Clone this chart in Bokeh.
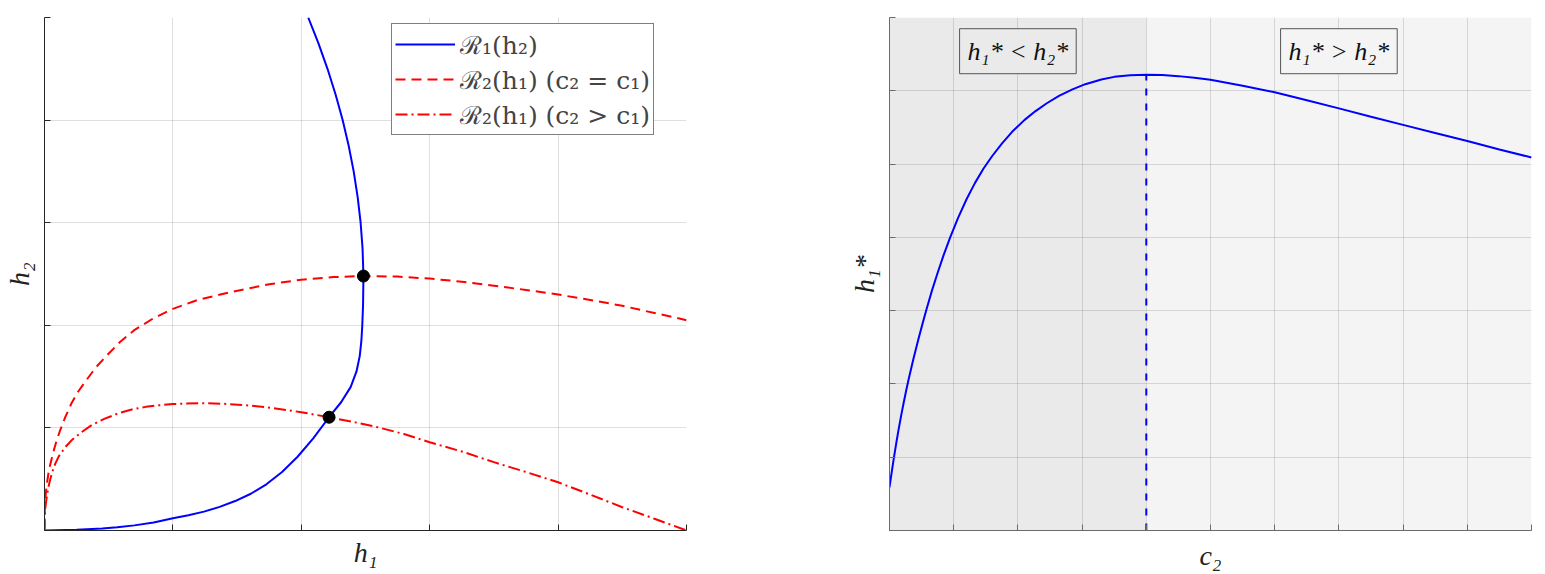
import numpy as np
from bokeh.plotting import figure
from bokeh.layouts import row
from bokeh.models import FixedTicker, Legend, LegendItem, BoxAnnotation, Label
from bokeh.embed import file_html
from bokeh.resources import INLINE

# ---------------- data: left panel (best responses) ----------------
r1_h1 = [0.0, 0.25, 0.45, 0.567, 0.70, 0.85, 1.0, 1.121, 1.242, 1.364, 1.485, 1.607,
         1.728, 1.850, 1.971, 2.093, 2.216, 2.31, 2.385, 2.43, 2.455, 2.468, 2.475, 2.481,
         2.484, 2.477, 2.462, 2.439, 2.408, 2.369, 2.322, 2.267, 2.204, 2.133, 2.054]
r1_h2 = [0.0, 0.008, 0.02, 0.032, 0.05, 0.078, 0.12, 0.149, 0.184, 0.230, 0.287, 0.358,
         0.450, 0.570, 0.719, 0.898, 1.104, 1.25, 1.40, 1.55, 1.70, 1.85, 2.0, 2.2,
         2.48, 2.75, 3.0, 3.25, 3.5, 3.75, 4.0, 4.25, 4.5, 4.75, 5.0]

r2eq_h1 = [0.0, 0.002, 0.005, 0.01, 0.02, 0.035, 0.05, 0.07, 0.095, 0.12, 0.16, 0.21,
           0.26, 0.317, 0.40, 0.489, 0.59, 0.696, 0.85, 1.0, 1.2, 1.475, 1.75, 2.0, 2.25,
           2.484, 2.75, 3.0, 3.25, 3.5, 3.75, 4.0, 4.28, 4.5, 4.75, 5.0]
r2eq_h2 = [0.0, 0.19, 0.27, 0.36, 0.47, 0.59, 0.67, 0.77, 0.88, 0.97, 1.10, 1.24,
           1.35, 1.45, 1.59, 1.71, 1.84, 1.95, 2.07, 2.16, 2.25, 2.33, 2.40, 2.445, 2.47,
           2.48, 2.475, 2.455, 2.425, 2.385, 2.345, 2.30, 2.24, 2.19, 2.12, 2.05]

r2gt_h1 = [0.0, 0.001, 0.003, 0.006, 0.01, 0.018, 0.03, 0.045, 0.063, 0.083, 0.11, 0.16,
           0.22, 0.29, 0.37, 0.47, 0.57, 0.68, 0.79, 0.89, 1.0, 1.1, 1.268, 1.43, 1.6,
           1.8, 2.0, 2.216, 2.4, 2.593, 2.8, 3.0, 3.25, 3.5, 3.75, 4.0, 4.25, 4.5, 4.75, 5.0]
r2gt_h2 = [0.0, 0.09, 0.15, 0.21, 0.26, 0.33, 0.42, 0.50, 0.58, 0.65, 0.72, 0.81,
           0.89, 0.96, 1.03, 1.09, 1.14, 1.18, 1.205, 1.22, 1.232, 1.238, 1.24, 1.233, 1.218,
           1.19, 1.153, 1.104, 1.06, 1.007, 0.94, 0.86, 0.77, 0.666, 0.57, 0.47, 0.35, 0.227,
           0.115, 0.0]

eq_h1 = [2.484, 2.216]
eq_h2 = [2.48, 1.104]

legend_labels = ["ℛ₁(h₂)", "ℛ₂(h₁) (c₂ = c₁)", "ℛ₂(h₁) (c₂ > c₁)"]

# ---------------- data: right panel (equilibrium h1* vs c2) ----------------
c2 = [0.0, 0.035, 0.07, 0.105, 0.14, 0.18, 0.22, 0.26, 0.30, 0.375, 0.45, 0.52, 0.58,
      0.66, 0.74, 0.84, 0.945, 1.07, 1.2, 1.33, 1.465, 1.6, 1.75, 1.91, 2.1, 2.27, 2.45,
      2.64, 2.85, 3.05, 3.3, 3.5, 3.75, 4.0, 4.25, 4.5, 4.75, 5.0, 5.5, 6.0, 6.5, 7.0,
      7.5, 8.0, 8.5, 9.0, 9.5, 10.0]
h1_star = [0.59, 0.80, 1.00, 1.19, 1.37, 1.56, 1.74, 1.91, 2.07, 2.35, 2.61, 2.84, 3.03,
           3.27, 3.49, 3.75, 4.00, 4.27, 4.52, 4.74, 4.94, 5.11, 5.28, 5.44, 5.60, 5.72, 5.83,
           5.93, 6.02, 6.09, 6.155, 6.19, 6.213, 6.22, 6.215, 6.20, 6.178, 6.15, 6.07, 5.98,
           5.87, 5.76, 5.645, 5.535, 5.425, 5.315, 5.20, 5.09]
region_texts = ["h₁* < h₂*", "h₁* > h₂*"]

AX = "#262626"
FONT = "Liberation Serif"


def style_axes(p, color):
    for ax in p.axis:
        ax.major_label_text_font_size = "0px"
        ax.major_label_text_color = None
        ax.major_label_standoff = 0
        ax.major_tick_in = 6
        ax.major_tick_out = 0
        ax.minor_tick_line_color = None
        ax.axis_line_color = color
        ax.major_tick_line_color = color
        ax.axis_label_text_font = FONT
        ax.axis_label_text_font_size = "28px"
        ax.axis_label_text_font_style = "italic"
        ax.axis_label_text_color = "#222222"
    p.grid.grid_line_color = AX
    p.grid.grid_line_alpha = 0.15
    p.outline_line_color = None


# ---------------- left figure ----------------
p1 = figure(width=820, height=573, x_range=(0, 5), y_range=(0, 5),
            output_backend="svg", toolbar_location=None,
            min_border_left=44, min_border_right=134, min_border_top=17, min_border_bottom=43)
p1.xaxis.ticker = FixedTicker(ticks=[0, 1, 2, 3, 4, 5])
p1.yaxis.ticker = FixedTicker(ticks=[0, 1, 2, 3, 4, 5])
p1.xaxis.axis_label = "h₁"
p1.yaxis.axis_label = "h₂"
style_axes(p1, AX)
p1.xaxis.axis_label_standoff = 6
p1.yaxis.axis_label_standoff = 10

l1 = p1.line(r1_h1, r1_h2, line_color="#0000ff", line_width=2)
l2 = p1.line(r2eq_h1, r2eq_h2, line_color="#ff0000", line_width=2, line_dash="10 6")
l3 = p1.line(r2gt_h1, r2gt_h2, line_color="#ff0000", line_width=2, line_dash="12 4 2 4")
p1.scatter(eq_h1, eq_h2, size=12, fill_color="black", line_color="black")

legend = Legend(items=[LegendItem(label=legend_labels[0], renderers=[l1]),
                       LegendItem(label=legend_labels[1], renderers=[l2]),
                       LegendItem(label=legend_labels[2], renderers=[l3])],
                location=(347, 395), border_line_color="black", border_line_width=1,
                background_fill_color="white", background_fill_alpha=1,
                label_text_font="DejaVu Serif", label_text_font_size="25px",
                glyph_width=60, glyph_height=34, label_height=34, spacing=1,
                padding=3, margin=0, label_standoff=5)
p1.add_layout(legend)

# ---------------- right figure ----------------
p2 = figure(width=715, height=573, x_range=(0, 10), y_range=(0, 7),
            output_backend="svg", toolbar_location=None,
            min_border_left=69, min_border_right=4, min_border_top=17, min_border_bottom=43)
p2.xaxis.ticker = FixedTicker(ticks=list(range(0, 11)))
p2.yaxis.ticker = FixedTicker(ticks=list(range(0, 8)))
p2.xaxis.axis_label = "c₂"
p2.yaxis.axis_label = "h₁*"
style_axes(p2, "#6b6b6b")
p2.xaxis.axis_label_standoff = 9
p2.yaxis.axis_label_standoff = 10

ipk = int(np.argmax(h1_star))
c_peak = c2[ipk]
h_peak = h1_star[ipk]

p2.add_layout(BoxAnnotation(left=c2[0], right=c_peak, fill_color="#eaeaea", fill_alpha=1,
                            line_color=None, level="image"))
p2.add_layout(BoxAnnotation(left=c_peak, right=c2[-1], fill_color="#f4f4f4", fill_alpha=1,
                            line_color=None, level="image"))

p2.line(c2, h1_star, line_color="#0000ff", line_width=2)
p2.segment(x0=[c_peak], y0=[0], x1=[c_peak], y1=[h_peak], line_color="#0000ff",
           line_width=2, line_dash="7 8")

for xc, txt, bg in [(c_peak / 2, region_texts[0], "#eaeaea"),
                    ((c_peak + c2[-1]) / 2, region_texts[1], "#f4f4f4")]:
    p2.add_layout(Label(x=xc, y=6.54, text=txt, text_align="center", text_baseline="middle",
                        text_font=FONT, text_font_size="26px", text_font_style="italic",
                        text_color="#111111", background_fill_color=bg,
                        border_line_color="#555555", border_line_width=1, padding=8))

layout = row(p1, p2)
open("out.html", "w").write(file_html(layout, INLINE))
